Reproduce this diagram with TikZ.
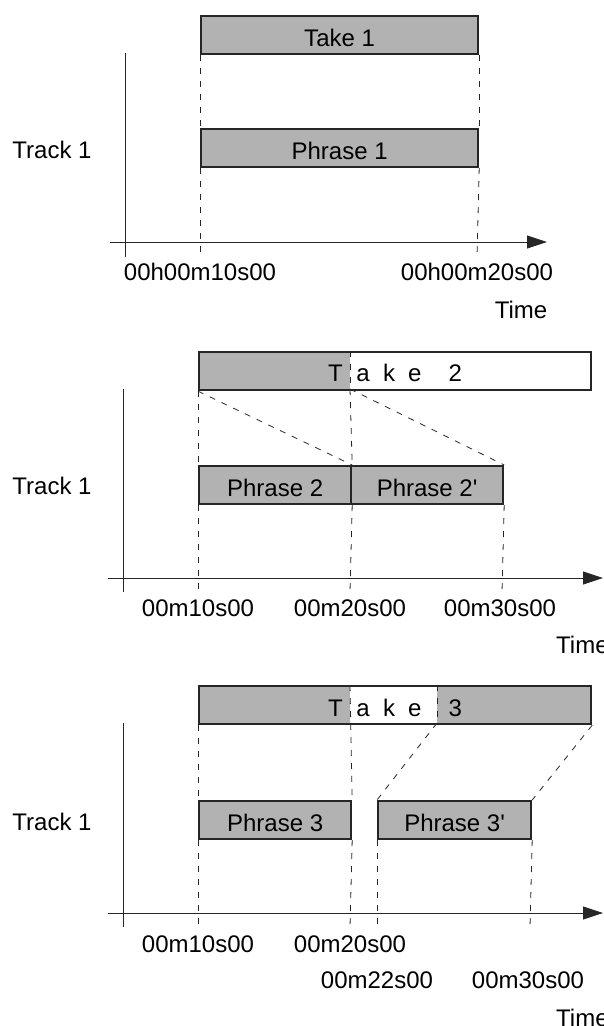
\documentclass[tikz,border=0pt]{standalone}
\usepackage{fontspec}
\setmainfont{Liberation Sans}
\usetikzlibrary{arrows.meta}
\definecolor{boxgray}{gray}{0.70}
\definecolor{ink}{gray}{0.15}
\begin{document}
\begin{tikzpicture}[x=1pt,y=-1pt,
  every node/.style={font=\fontsize{24}{28}\selectfont},
  box/.style={draw=ink, line width=2.2pt, fill=boxgray, minimum height=38pt, inner sep=0pt, anchor=north west, text height=23pt, text depth=0pt},
  tbox/.style={box, fill=none},
  lab/.style={inner sep=0pt, text height=17pt, text depth=0pt},
  axisline/.style={draw=ink, line width=0.9pt},
  arr/.style={-{Triangle[length=20pt,width=13pt]}},
  guide/.style={draw=ink, line width=0.8pt, dash pattern=on 6pt off 7pt}
]
\useasboundingbox (0,0) rectangle (603,1026);

% ---------------- Panel 1 ----------------
\coordinate (a1o) at (110,242); \coordinate (a1e) at (547,242);
\coordinate (v1t) at (125,53);  \coordinate (v1b) at (125,257);
\coordinate (g1a) at (200,257); \coordinate (g1b) at (477,257);
\draw[axisline, arr] (a1o) -- (a1e);
\draw[axisline] (v1t) -- (v1b);
\node[box, minimum width=277pt] (take1) at (200,15) {Take 1};
\node[box, minimum width=277pt] (ph1) at (200,128) {Phrase 1};
\draw[guide] (take1.south west) -- (ph1.north west);
\draw[guide] (take1.south east) -- (ph1.north east);
\draw[guide] (ph1.south west) -- (g1a);
\draw[guide] (ph1.south east) -- (g1b);
\node[lab] (tr1) at (52,150) {Track 1};
\node[lab] (l1a) at (200,272) {00h00m10s00};
\node[lab] (l1b) at (477,272) {00h00m20s00};
\node[lab] (time1) at (521,309.5) {Time};

% ---------------- Panel 2 ----------------
\coordinate (a2o) at (108,578); \coordinate (a2e) at (603,578);
\coordinate (v2t) at (123,389); \coordinate (v2b) at (123,592);
\coordinate (t2m) at (350,351); \coordinate (t2mb) at (350,389);
\coordinate (g2a) at (198,592); \coordinate (g2b) at (350,592); \coordinate (g2c) at (502,592);
\draw[axisline, arr] (a2o) -- (a2e);
\draw[axisline] (v2t) -- (v2b);
\fill[boxgray] (198,351) rectangle (350,389);
\fill[white] (350,351) rectangle (590,389);
\draw[guide] (t2m) -- (t2mb);
\node[tbox, minimum width=392pt] (take2) at (198,351) {};
\node[lab, anchor=west] (take2t) at (328,373) {T\hspace{13.5pt}a\hspace{13.5pt}k\hspace{13pt}e\hspace{27pt}2};
\node[box, minimum width=152pt] (ph2) at (198,465) {Phrase 2};
\node[box, minimum width=152pt] (ph2b) at (350,465) {Phrase 2\textquotesingle};
\draw[guide] (take2.south west) -- (ph2.north west);
\draw[guide] (t2mb) -- (ph2.north east);
\draw[guide] (take2.south west) -- (ph2.north east);
\draw[guide] (t2mb) -- (ph2b.north east);
\draw[guide] (ph2.south west) -- (g2a);
\draw[guide] (ph2.south east) -- (g2b);
\draw[guide] (ph2b.south east) -- (g2c);
\node[lab] (tr2) at (52,486) {Track 1};
\node[lab] (l2a) at (198,607.5) {00m10s00};
\node[lab] (l2b) at (350,607.5) {00m20s00};
\node[lab] (l2c) at (500,607.5) {00m30s00};
\node[lab, anchor=west] (time2) at (556,645) {Time};

% ---------------- Panel 3 ----------------
\coordinate (a3o) at (108,913); \coordinate (a3e) at (603,913);
\coordinate (v3t) at (123,723); \coordinate (v3b) at (123,927);
\coordinate (t3m) at (350,685); \coordinate (t3n) at (437,685); \coordinate (t3nb) at (437,723);
\coordinate (g3a) at (198,927); \coordinate (g3b) at (350,927);
\coordinate (g3c) at (377,927); \coordinate (g3d) at (530,927);
\draw[axisline, arr] (a3o) -- (a3e);
\draw[axisline] (v3t) -- (v3b);
\fill[boxgray] (198,685) rectangle (590,723);
\fill[white] (350,685) rectangle (437,723);
\draw[guide] (t3n) -- (t3nb);
\node[box, minimum width=152pt] (ph3) at (198,800) {Phrase 3};
\node[box, minimum width=153pt] (ph3b) at (377,800) {Phrase 3\textquotesingle};
\draw[guide] (t3m) -- (ph3.north east);
\node[tbox, minimum width=392pt] (take3) at (198,685) {};
\node[lab, anchor=west] (take3t) at (328,707.5) {T\hspace{13.5pt}a\hspace{13.5pt}k\hspace{13pt}e\hspace{27pt}3};
\draw[guide] (take3.south west) -- (ph3.north west);
\draw[guide] (t3nb) -- (ph3b.north west);
\draw[guide] (take3.south east) -- (ph3b.north east);
\draw[guide] (ph3.south west) -- (g3a);
\draw[guide] (ph3.south east) -- (g3b);
\draw[guide] (ph3b.south west) -- (g3c);
\draw[guide] (ph3b.south east) -- (g3d);
\node[lab] (tr3) at (52,821.5) {Track 1};
\node[lab] (l3a) at (198,943.5) {00m10s00};
\node[lab] (l3b) at (350,943.5) {00m20s00};
\node[lab] (l3c) at (377,980) {00m22s00};
\node[lab] (l3d) at (528,980) {00m30s00};
\node[lab, anchor=west] (time3) at (556,1017.5) {Time};
\end{tikzpicture}
\end{document}
